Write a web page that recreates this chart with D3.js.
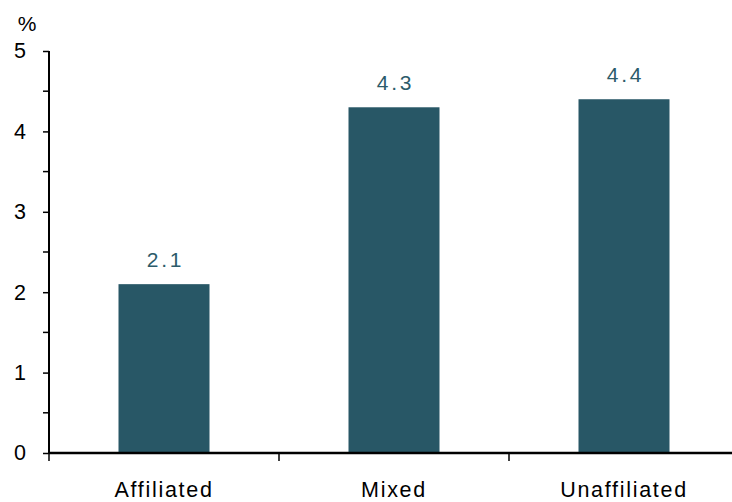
<!DOCTYPE html>
<html><head><meta charset="utf-8">
<script src="https://cdn.jsdelivr.net/npm/d3@7"></script>
<style>body{margin:0;background:#fff}svg{display:block}</style>
</head><body><svg id="c" width="732" height="502"></svg>
<script>
const categories = ["Affiliated", "Mixed", "Unaffiliated"];
const values = [2.1, 4.3, 4.4];
const valueLabels = ["2.1", "4.3", "4.4"];
const yTickValues = [0, 1, 2, 3, 4, 5];
const yMinorTicks = [0.5, 1.5, 2.5, 3.5, 4.5];
const yUnit = "%";

const svg = d3.select("#c");
const font = "'Liberation Sans', Arial, sans-serif";
const barColor = "#285766";
const x0 = 49, x1 = 739, yTop = 51, yBot = 453;

const x = d3.scaleBand().domain(categories).range([x0, x1]).paddingInner(0).paddingOuter(0);
const y = d3.scaleLinear().domain([0, 5]).range([yBot, yTop]);
const bw = 91;

svg.selectAll("rect.bar").data(categories).join("rect")
  .attr("x", (d) => x(d) + x.bandwidth()/2 - bw/2)
  .attr("width", bw)
  .attr("y", (d, i) => y(values[i]))
  .attr("height", (d, i) => y(0) - y(values[i]))
  .attr("fill", barColor);

svg.selectAll("text.val").data(categories).join("text")
  .attr("x", (d) => x(d) + x.bandwidth()/2 + 1.5)
  .attr("y", (d, i) => y(values[i]) - 17.5)
  .attr("text-anchor", "middle")
  .attr("font-family", font).attr("font-size", 21)
  .attr("letter-spacing", 2.8)
  .attr("fill", "#2c5b6a")
  .text((d, i) => valueLabels[i]);

// y axis
const yAxis = d3.axisLeft(y).tickValues(yTickValues).tickSize(6).tickPadding(17).tickFormat(d3.format("d"));
const gy = svg.append("g").attr("transform", `translate(${x0},0)`).call(yAxis);
gy.select(".domain").attr("stroke", "#000").attr("stroke-width", 2).attr("d", `M0,${yTop}V${yBot}`);
gy.selectAll(".tick line").attr("stroke", "#000").attr("stroke-width", 1.5);
gy.selectAll(".tick text").attr("font-family", font).attr("font-size", 21.5).attr("fill", "#000");
svg.append("g").attr("transform", `translate(${x0},0)`).selectAll("line").data(yMinorTicks).join("line")
  .attr("x1", -6).attr("x2", 0).attr("y1", d => y(d)).attr("y2", d => y(d))
  .attr("stroke", "#000").attr("stroke-width", 1.5);

// x axis
const xAxis = d3.axisBottom(x).tickSize(0).tickPadding(29.2);
const gx = svg.append("g").attr("transform", `translate(0,${yBot})`).call(xAxis);
gx.select(".domain").attr("stroke", "#000").attr("stroke-width", 2.5).attr("d", `M${x0},0H732`);
gx.selectAll(".tick text").attr("font-family", font).attr("font-size", 21.5).attr("letter-spacing", 1.7).attr("fill", "#000");
const bounds = [x0].concat(categories.map(c => x(c) + x.bandwidth()));
svg.append("g").attr("transform", `translate(0,${yBot})`).selectAll("line").data(bounds).join("line")
  .attr("x1", d => d).attr("x2", d => d).attr("y1", 0).attr("y2", 8)
  .attr("stroke", "#000").attr("stroke-width", 1.5);

svg.append("text").attr("x", 27).attr("y", 31).attr("text-anchor", "middle")
  .attr("font-family", font).attr("font-size", 21).attr("fill", "#000").text(yUnit);
</script></body></html>
